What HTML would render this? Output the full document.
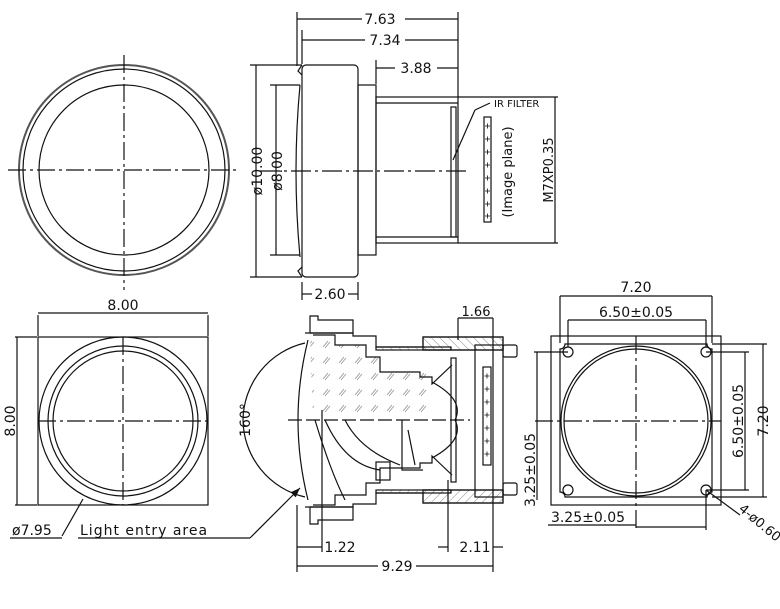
<!DOCTYPE html>
<html><head><meta charset="utf-8"><style>
html,body{margin:0;padding:0;background:#fff}
svg{display:block}
text{font-family:"DejaVu Sans","Liberation Sans",sans-serif;fill:#111}
</style></head><body>
<svg width="780" height="609" viewBox="0 0 780 609" xmlns="http://www.w3.org/2000/svg">
<defs>
<pattern id="h" width="6" height="6" patternUnits="userSpaceOnUse" patternTransform="rotate(-45)">
<line x1="0" y1="0" x2="0" y2="6" stroke="#888" stroke-width="1"/></pattern>
<pattern id="h2" width="16" height="16" patternUnits="userSpaceOnUse">
<path d="M3,11 l5,-6 M5,12 l5,-6" stroke="#999" stroke-width="0.9" fill="none"/></pattern>
<marker id="a" markerWidth="8" markerHeight="6" refX="8" refY="3" orient="auto"><path d="M0,0 L8,3 L0,6z" fill="#111"/></marker>
</defs>
<g fill="none" stroke="#111" stroke-width="1.2">
<!-- top-left circle view -->
<circle cx="124" cy="170" r="105" stroke="#555" stroke-width="2"/>
<circle cx="124" cy="170" r="101"/>
<circle cx="124" cy="170" r="85"/>
<line x1="8" y1="170" x2="240" y2="170" stroke-dasharray="18,4,3,4"/>
<line x1="124" y1="55" x2="124" y2="290" stroke-dasharray="18,4,3,4"/>

<!-- top side view -->
<rect x="302" y="65" width="56" height="212" rx="4"/>
<path d="M300,85 Q292,171 300,257" />
<path d="M302,65 l-4,6 l4,4 M302,277 l-4,-6 l4,-4"/>
<rect x="358" y="85" width="18" height="170"/>
<rect x="376" y="97" width="82" height="146"/>
<line x1="376" y1="103" x2="458" y2="103"/><line x1="376" y1="237" x2="458" y2="237"/>
<rect x="451" y="107" width="5" height="130"/>
<rect x="484" y="117" width="7" height="105"/>
<path d="M485,126h5M487.5,123.5v5M485,139h5M487.5,136.5v5M485,152h5M487.5,149.5v5M485,165h5M487.5,162.5v5M485,178h5M487.5,175.5v5M485,191h5M487.5,188.5v5M485,204h5M487.5,201.5v5M485,216h5M487.5,213.5v5" stroke-width="0.8"/>
<line x1="260" y1="171" x2="470" y2="171" stroke-dasharray="20,4,3,4"/>
<line x1="458" y1="97" x2="558" y2="97"/><line x1="458" y1="243" x2="558" y2="243"/>
<line x1="555" y1="97" x2="555" y2="243"/>
<line x1="453" y1="160" x2="475" y2="110"/><line x1="475" y1="110" x2="490" y2="103"/>
<line x1="297" y1="12" x2="297" y2="66"/><line x1="458" y1="12" x2="458" y2="97"/>
<line x1="302" y1="30" x2="302" y2="64"/><line x1="376" y1="60" x2="376" y2="84"/>
<line x1="250" y1="65" x2="302" y2="65"/><line x1="250" y1="277" x2="302" y2="277"/>
<line x1="270" y1="85" x2="300" y2="85"/><line x1="270" y1="255" x2="300" y2="255"/>
<line x1="256" y1="65" x2="256" y2="277"/><line x1="276" y1="85" x2="276" y2="255"/>
<line x1="297" y1="19" x2="362" y2="19"/><line x1="405" y1="19" x2="458" y2="19"/>
<line x1="302" y1="40" x2="365" y2="40"/><line x1="405" y1="40" x2="458" y2="40"/>
<line x1="376" y1="68" x2="395" y2="68"/><line x1="437" y1="68" x2="458" y2="68"/>
<line x1="302" y1="282" x2="302" y2="300"/><line x1="358" y1="282" x2="358" y2="300"/>
<line x1="302" y1="294" x2="312" y2="294"/><line x1="348" y1="294" x2="358" y2="294"/>

<!-- bottom-left square view -->
<rect x="38" y="337" width="170" height="168"/>
<circle cx="123" cy="421" r="84"/>
<circle cx="123" cy="421" r="75"/>
<circle cx="123" cy="421" r="70"/>
<line x1="38" y1="421" x2="208" y2="421" stroke-dasharray="18,4,3,4"/>
<line x1="123" y1="337" x2="123" y2="505" stroke-dasharray="18,4,3,4"/>
<line x1="38" y1="315" x2="38" y2="336"/><line x1="208" y1="315" x2="208" y2="336"/>
<line x1="38" y1="313" x2="208" y2="313"/>
<line x1="15" y1="337" x2="37" y2="337"/><line x1="15" y1="505" x2="37" y2="505"/>
<line x1="17" y1="337" x2="17" y2="505"/>
<line x1="62" y1="536" x2="83" y2="499"/>
<line x1="10" y1="538" x2="62" y2="538"/><line x1="78" y1="538" x2="250" y2="538"/>
<line x1="250" y1="538" x2="300" y2="488" marker-end="url(#a)"/>

<!-- bottom section -->
<path d="M243,420 A80,80 0 0 1 305,343"/><path d="M243,420 A80,80 0 0 0 305,497"/>
<path d="M308,340 Q288,420 308,500"/>
<path d="M310,336 L335,336 L335,345 L366,345 L366,357 L380,357 L380,372 L432,372 L432,420 L313,420z" fill="url(#h2)" stroke="none"/>
<g id="half">
<path d="M310,333 L310,316 L318,316 L318,320 L353,320 L353,333 L310,333" />
<path d="M305,333 L353,333 L353,336 L376,336 L376,347 L423,347 L423,337 L503,337 L503,350 L423,350"/>
<rect x="423" y="337" width="80" height="13" fill="url(#h)"/>
<rect x="376" y="347" width="75" height="3" fill="url(#h)"/>
<path d="M313,335 L335,335 L335,345 L366,345 L366,357 L380,357 L380,372 L420,372 L420,377 L432,377 L432,384 L452,365"/>
<path d="M432,382 Q465,400 455,420"/>
</g>
<use href="#half" transform="translate(0,840) scale(1,-1)"/>
<path d="M315,420 Q330,470 345,500 M325,420 Q345,465 380,470 M345,420 Q360,450 400,465"/>
<path d="M402,420 L402,470 L423,470 M408,430 L415,465"/>
<rect x="376" y="462" width="14" height="18"/>
<rect x="475" y="345" width="28" height="152"/>
<rect x="451" y="358" width="5" height="124"/>
<rect x="483" y="367" width="8" height="98"/>
<path d="M484.5,376h5M487,373.5v5M484.5,389h5M487,386.5v5M484.5,402h5M487,399.5v5M484.5,415h5M487,412.5v5M484.5,428h5M487,425.5v5M484.5,441h5M487,438.5v5M484.5,454h5M487,451.5v5" stroke-width="0.8"/>
<rect x="503" y="345" width="14" height="12" rx="2"/>
<rect x="503" y="483" width="14" height="12" rx="2"/>
<line x1="288" y1="420" x2="470" y2="420" stroke-dasharray="14,4"/>
<line x1="297" y1="505" x2="297" y2="572"/><line x1="322" y1="410" x2="322" y2="552"/>
<line x1="493" y1="318" x2="493" y2="572"/><line x1="458" y1="318" x2="458" y2="340"/>
<line x1="448" y1="480" x2="448" y2="552"/>
<line x1="458" y1="318" x2="493" y2="318"/>
<line x1="297" y1="547" x2="322" y2="547"/>
<line x1="438" y1="547" x2="448" y2="547"/><line x1="493" y1="547" x2="503" y2="547"/>
<line x1="297" y1="566" x2="378" y2="566"/><line x1="416" y1="566" x2="493" y2="566"/>

<!-- right view -->
<rect x="551" y="336" width="170" height="169"/>
<path d="M565,344 L707,344 A5,5 0 0 0 712,349 L712,492 A5,5 0 0 0 707,497 L565,497 A5,5 0 0 0 560,492 L560,349 A5,5 0 0 0 565,344z"/>
<circle cx="568" cy="352" r="5"/><circle cx="706" cy="352" r="5"/>
<circle cx="568" cy="490" r="5"/><circle cx="706" cy="490" r="5"/>
<circle cx="636" cy="421" r="75"/><circle cx="636" cy="421" r="72"/>
<line x1="535" y1="421" x2="721" y2="421" stroke-dasharray="18,4,3,4"/>
<line x1="636" y1="336" x2="636" y2="530" stroke-dasharray="18,4,3,4"/>
<line x1="560" y1="296" x2="560" y2="343"/><line x1="712" y1="296" x2="712" y2="343"/>
<line x1="560" y1="296" x2="712" y2="296"/>
<line x1="568" y1="320" x2="568" y2="347"/><line x1="706" y1="320" x2="706" y2="347"/>
<line x1="568" y1="320" x2="706" y2="320"/>
<line x1="712" y1="344" x2="767" y2="344"/><line x1="712" y1="497" x2="767" y2="497"/>
<line x1="763" y1="344" x2="763" y2="497"/>
<line x1="706" y1="352" x2="749" y2="352"/><line x1="706" y1="490" x2="749" y2="490"/>
<line x1="745" y1="352" x2="745" y2="490"/>
<line x1="534" y1="352" x2="568" y2="352"/><line x1="537" y1="352" x2="537" y2="500"/>
<line x1="706" y1="490" x2="706" y2="530"/><line x1="636" y1="527" x2="706" y2="527"/>
<line x1="548" y1="525" x2="636" y2="525"/>
<line x1="706" y1="490" x2="740" y2="515"/>
</g>
<g font-size="14">
<text x="380" y="24" text-anchor="middle">7.63</text>
<text x="385" y="45" text-anchor="middle">7.34</text>
<text x="416" y="73" text-anchor="middle">3.88</text>
<text x="330" y="299" text-anchor="middle">2.60</text>
<text transform="translate(262,171) rotate(-90)" text-anchor="middle">ø10.00</text>
<text transform="translate(282,171) rotate(-90)" text-anchor="middle">ø8.00</text>
<text transform="translate(512,172) rotate(-90)" text-anchor="middle" font-size="13">(Image plane)</text>
<text transform="translate(553,170) rotate(-90)" text-anchor="middle" font-size="13">M7XP0.35</text>
<text x="494" y="107" font-size="10">IR FILTER</text>
<text x="123" y="310" text-anchor="middle">8.00</text>
<text transform="translate(15,421) rotate(-90)" text-anchor="middle">8.00</text>
<text x="12" y="535" font-size="14">ø7.95</text>
<text x="80" y="535" font-size="14" font-family="Liberation Mono,monospace" letter-spacing="1">Light entry area</text>
<text transform="translate(250,420) rotate(-90)" text-anchor="middle" font-size="14">160°</text>
<text x="476" y="316" text-anchor="middle" font-size="13">1.66</text>
<text x="340" y="552" text-anchor="middle">1.22</text>
<text x="475" y="552" text-anchor="middle">2.11</text>
<text x="397" y="571" text-anchor="middle">9.29</text>
<text x="636" y="292" text-anchor="middle">7.20</text>
<text x="636" y="317" text-anchor="middle">6.50±0.05</text>
<text transform="translate(768,421) rotate(-90)" text-anchor="middle">7.20</text>
<text transform="translate(743,421) rotate(-90)" text-anchor="middle">6.50±0.05</text>
<text transform="translate(535,470) rotate(-90)" text-anchor="middle">3.25±0.05</text>
<text x="588" y="522" text-anchor="middle">3.25±0.05</text>
<text transform="translate(738,510) rotate(40)" font-size="13">4-ø0.60</text>
</g>
</svg>
</body></html>
